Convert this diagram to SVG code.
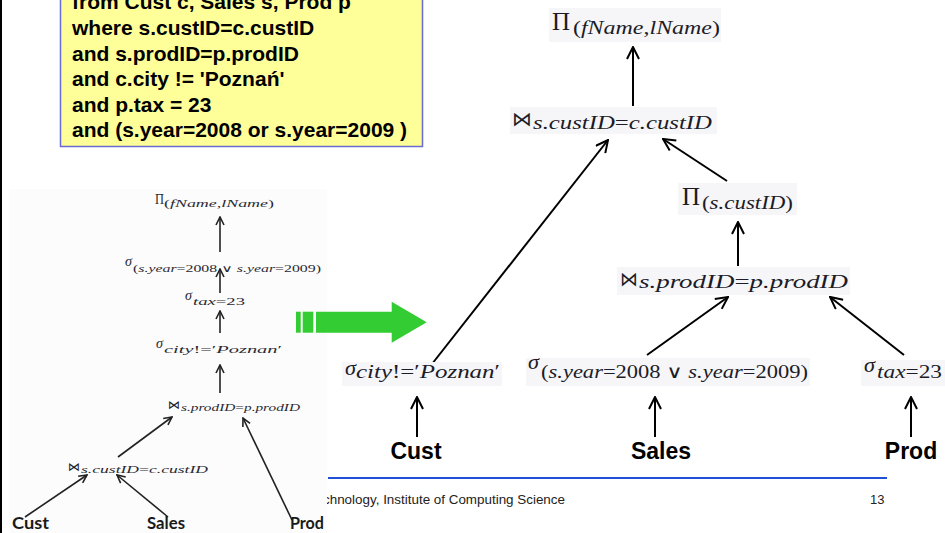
<svg xmlns="http://www.w3.org/2000/svg" width="945" height="533" viewBox="0 0 945 533">
  <style>
    .sql { font-family: "Liberation Sans", Arial, sans-serif; font-weight: bold; font-size: 21px; fill: #000; }
    .m { font-family: "Liberation Serif", "DejaVu Serif", serif; fill: #1c1c28; }
    .sm { fill: #2a2a33; }
    .i { font-style: italic; }
    .bow { font-family: "DejaVu Sans", sans-serif; fill: #1c1c28; }
    .bg { fill: #f6f6f8; }
    .lbl { font-family: "Liberation Sans", Arial, sans-serif; font-weight: bold; font-size: 23px; fill: #000; text-anchor: middle; }
    .slbl { font-family: Lato, "Liberation Sans", sans-serif; font-weight: bold; font-size: 17px; fill: #1a1a1a; }
    .foot { font-family: "Liberation Sans", Arial, sans-serif; font-size: 13px; fill: #222; }
    .edge { stroke: #000; stroke-width: 2; fill: none; marker-end: url(#head); }
    .sedge { stroke: #222; stroke-width: 1.6; fill: none; marker-end: url(#shead); }
  </style>
  <defs>
    <marker id="head" viewBox="0 0 14 14" refX="13" refY="7" markerWidth="14" markerHeight="14" markerUnits="userSpaceOnUse" orient="auto">
      <path d="M1,1 L13,7 L1,13" fill="none" stroke="#000" stroke-width="2"/>
    </marker>
    <marker id="shead" viewBox="0 0 10 10" refX="9" refY="5" markerWidth="10" markerHeight="10" markerUnits="userSpaceOnUse" orient="auto">
      <path d="M1,1 L9,5 L1,9" fill="none" stroke="#222" stroke-width="1.6"/>
    </marker>
  </defs>

  <rect x="0" y="0" width="945" height="533" fill="#fff"/>

  <!-- slide footer -->
  <g id="footer">
    <line x1="328" y1="478" x2="887" y2="478" stroke="#1f50d8" stroke-width="2"/>
    <text class="foot" x="323" y="504" textLength="242" lengthAdjust="spacingAndGlyphs">chnology, Institute of Computing Science</text>
    <text class="foot" x="870" y="504">13</text>
  </g>

  <!-- slide edge -->
  <line x1="1" y1="0" x2="1" y2="533" stroke="#000" stroke-width="2"/>

  <!-- SQL query box -->
  <g id="sql-query">
    <rect x="60.5" y="-10" width="362" height="156.5" fill="#ffff99" stroke="#6a6ad0" stroke-width="1.5"/>
    <text class="sql" x="72" y="9">from Cust c, Sales s, Prod p</text>
    <text class="sql" x="72" y="35">where s.custID=c.custID</text>
    <text class="sql" x="72" y="60.5">and s.prodID=p.prodID</text>
    <text class="sql" x="72" y="86">and c.city != 'Poznań'</text>
    <text class="sql" x="72" y="111.5">and p.tax = 23</text>
    <text class="sql" x="72" y="137">and (s.year=2008 or s.year=2009 )</text>
  </g>

  <!-- initial plan -->
  <g id="initial-plan">
    <rect x="9" y="189" width="318" height="344" fill="#fcfcfc"/>
    <g id="s-connectors">
      <line class="sedge" x1="220" y1="252" x2="220" y2="217"/>
      <line class="sedge" x1="220" y1="293" x2="220" y2="269"/>
      <line class="sedge" x1="220" y1="333" x2="220" y2="311"/>
      <line class="sedge" x1="220" y1="393" x2="220" y2="365"/>
      <line class="sedge" x1="118" y1="457" x2="172" y2="417"/>
      <line class="sedge" x1="25" y1="517" x2="87" y2="475"/>
      <line class="sedge" x1="168" y1="517" x2="117" y2="475"/>
      <line class="sedge" x1="292" y1="520" x2="243" y2="418"/>
    </g>
    <g id="s-proj">
      <text class="m sm" x="155" y="204" font-size="15" textLength="9" lengthAdjust="spacingAndGlyphs">Π</text>
      <text class="m sm" x="164" y="207" font-size="10" textLength="110" lengthAdjust="spacingAndGlyphs">(<tspan class="i">fName</tspan>,<tspan class="i">lName</tspan>)</text>
    </g>
    <g id="s-sel-year">
      <text class="m sm i" x="125" y="266" font-size="14" textLength="7" lengthAdjust="spacingAndGlyphs">σ</text>
      <text class="m sm" x="133" y="272" font-size="10" textLength="188" lengthAdjust="spacingAndGlyphs">(<tspan class="i">s.year</tspan>=2008 ∨ <tspan class="i">s.year</tspan>=2009)</text>
    </g>
    <g id="s-sel-tax">
      <text class="m sm i" x="185" y="300" font-size="14" textLength="7" lengthAdjust="spacingAndGlyphs">σ</text>
      <text class="m sm" x="193" y="305" font-size="10" textLength="52" lengthAdjust="spacingAndGlyphs"><tspan class="i">tax</tspan>=23</text>
    </g>
    <g id="s-sel-city">
      <text class="m sm i" x="156" y="348" font-size="14" textLength="7" lengthAdjust="spacingAndGlyphs">σ</text>
      <text class="m sm" x="164" y="353" font-size="10" textLength="118" lengthAdjust="spacingAndGlyphs"><tspan class="i">city</tspan>!=′<tspan class="i">Poznan</tspan>′</text>
    </g>
    <g id="s-join-prod">
      <text class="bow" x="168" y="409" font-size="12" textLength="12" lengthAdjust="spacingAndGlyphs">⋈</text>
      <text class="m sm" x="181" y="411" font-size="10" textLength="119" lengthAdjust="spacingAndGlyphs"><tspan class="i">s.prodID</tspan>=<tspan class="i">p.prodID</tspan></text>
    </g>
    <g id="s-join-cust">
      <text class="bow" x="68" y="471" font-size="12" textLength="12" lengthAdjust="spacingAndGlyphs">⋈</text>
      <text class="m sm" x="81" y="473" font-size="10" textLength="127" lengthAdjust="spacingAndGlyphs"><tspan class="i">s.custID</tspan>=<tspan class="i">c.custID</tspan></text>
    </g>
    <g id="s-cust"><text class="slbl" x="12" y="529" textLength="37" lengthAdjust="spacingAndGlyphs">Cust</text></g>
    <g id="s-sales"><text class="slbl" x="147" y="529" textLength="38" lengthAdjust="spacingAndGlyphs">Sales</text></g>
    <g id="s-prod"><text class="slbl" x="290" y="529" textLength="34" lengthAdjust="spacingAndGlyphs">Prod</text></g>
  </g>

  <!-- transformation arrow -->
  <g id="transform-arrow" fill="#33cc33">
    <rect x="296" y="311.7" width="4.7" height="21"/>
    <rect x="302.7" y="311.7" width="10.6" height="21"/>
    <polygon points="316,311.7 391.7,311.7 391.7,301.7 426.7,322.2 391.7,342.7 391.7,332.7 316,332.7"/>
  </g>

  <!-- optimized plan -->
  <g id="connectors">
    <line class="edge" x1="633" y1="106" x2="633" y2="47"/>
    <line class="edge" x1="432" y1="364" x2="608" y2="140"/>
    <line class="edge" x1="727" y1="181" x2="663" y2="139"/>
    <line class="edge" x1="738" y1="266" x2="738" y2="222"/>
    <line class="edge" x1="647" y1="355" x2="728" y2="297"/>
    <line class="edge" x1="904" y1="355" x2="830" y2="297"/>
    <line class="edge" x1="417" y1="437" x2="417" y2="397"/>
    <line class="edge" x1="655" y1="437" x2="655" y2="397"/>
    <line class="edge" x1="911" y1="437" x2="911" y2="397"/>
  </g>

  <g id="proj-names">
    <rect class="bg" x="549" y="8" width="172" height="34"/>
    <text class="m" x="552" y="30" font-size="26" textLength="18" lengthAdjust="spacingAndGlyphs">Π</text>
    <text class="m" x="573" y="34" font-size="18" textLength="147" lengthAdjust="spacingAndGlyphs">(<tspan class="i">fName</tspan>,<tspan class="i">lName</tspan>)</text>
  </g>

  <g id="join-cust">
    <rect class="bg" x="510" y="107" width="207" height="27"/>
    <text class="bow" x="512" y="126" font-size="20" textLength="20" lengthAdjust="spacingAndGlyphs">⋈</text>
    <text class="m" x="533" y="129" font-size="18" textLength="179" lengthAdjust="spacingAndGlyphs"><tspan class="i">s.custID</tspan>=<tspan class="i">c.custID</tspan></text>
  </g>

  <g id="proj-custid">
    <rect class="bg" x="678" y="183" width="119" height="32"/>
    <text class="m" x="682" y="205" font-size="26" textLength="18" lengthAdjust="spacingAndGlyphs">Π</text>
    <text class="m" x="702" y="209" font-size="18" textLength="91" lengthAdjust="spacingAndGlyphs">(<tspan class="i">s.custID</tspan>)</text>
  </g>

  <g id="join-prod">
    <rect class="bg" x="617" y="267" width="233" height="28"/>
    <text class="bow" x="620" y="286" font-size="20" textLength="18" lengthAdjust="spacingAndGlyphs">⋈</text>
    <text class="m" x="639" y="288" font-size="18" textLength="209" lengthAdjust="spacingAndGlyphs"><tspan class="i">s.prodID</tspan>=<tspan class="i">p.prodID</tspan></text>
  </g>

  <g id="sel-city">
    <rect class="bg" x="342" y="362" width="160" height="24"/>
    <text class="m i" x="345" y="375" font-size="22" textLength="11" lengthAdjust="spacingAndGlyphs">σ</text>
    <text class="m" x="356" y="378" font-size="18" textLength="144" lengthAdjust="spacingAndGlyphs"><tspan class="i">city</tspan>!=′<tspan class="i">Poznan</tspan>′</text>
  </g>

  <g id="sel-year">
    <rect class="bg" x="526" y="358" width="284" height="28"/>
    <text class="m i" x="528" y="369" font-size="22" textLength="11" lengthAdjust="spacingAndGlyphs">σ</text>
    <text class="m" x="541" y="378" font-size="18" textLength="267" lengthAdjust="spacingAndGlyphs">(<tspan class="i">s.year</tspan>=2008 ∨ <tspan class="i">s.year</tspan>=2009)</text>
  </g>

  <g id="sel-tax">
    <rect class="bg" x="861" y="360" width="84" height="26"/>
    <text class="m i" x="864" y="372" font-size="22" textLength="11" lengthAdjust="spacingAndGlyphs">σ</text>
    <text class="m" x="877" y="378" font-size="18" textLength="65" lengthAdjust="spacingAndGlyphs"><tspan class="i">tax</tspan>=23</text>
  </g>

  <g id="cust"><text class="lbl" x="416" y="459">Cust</text></g>
  <g id="sales"><text class="lbl" x="661" y="459">Sales</text></g>
  <g id="prod"><text class="lbl" x="911" y="459">Prod</text></g>
</svg>
